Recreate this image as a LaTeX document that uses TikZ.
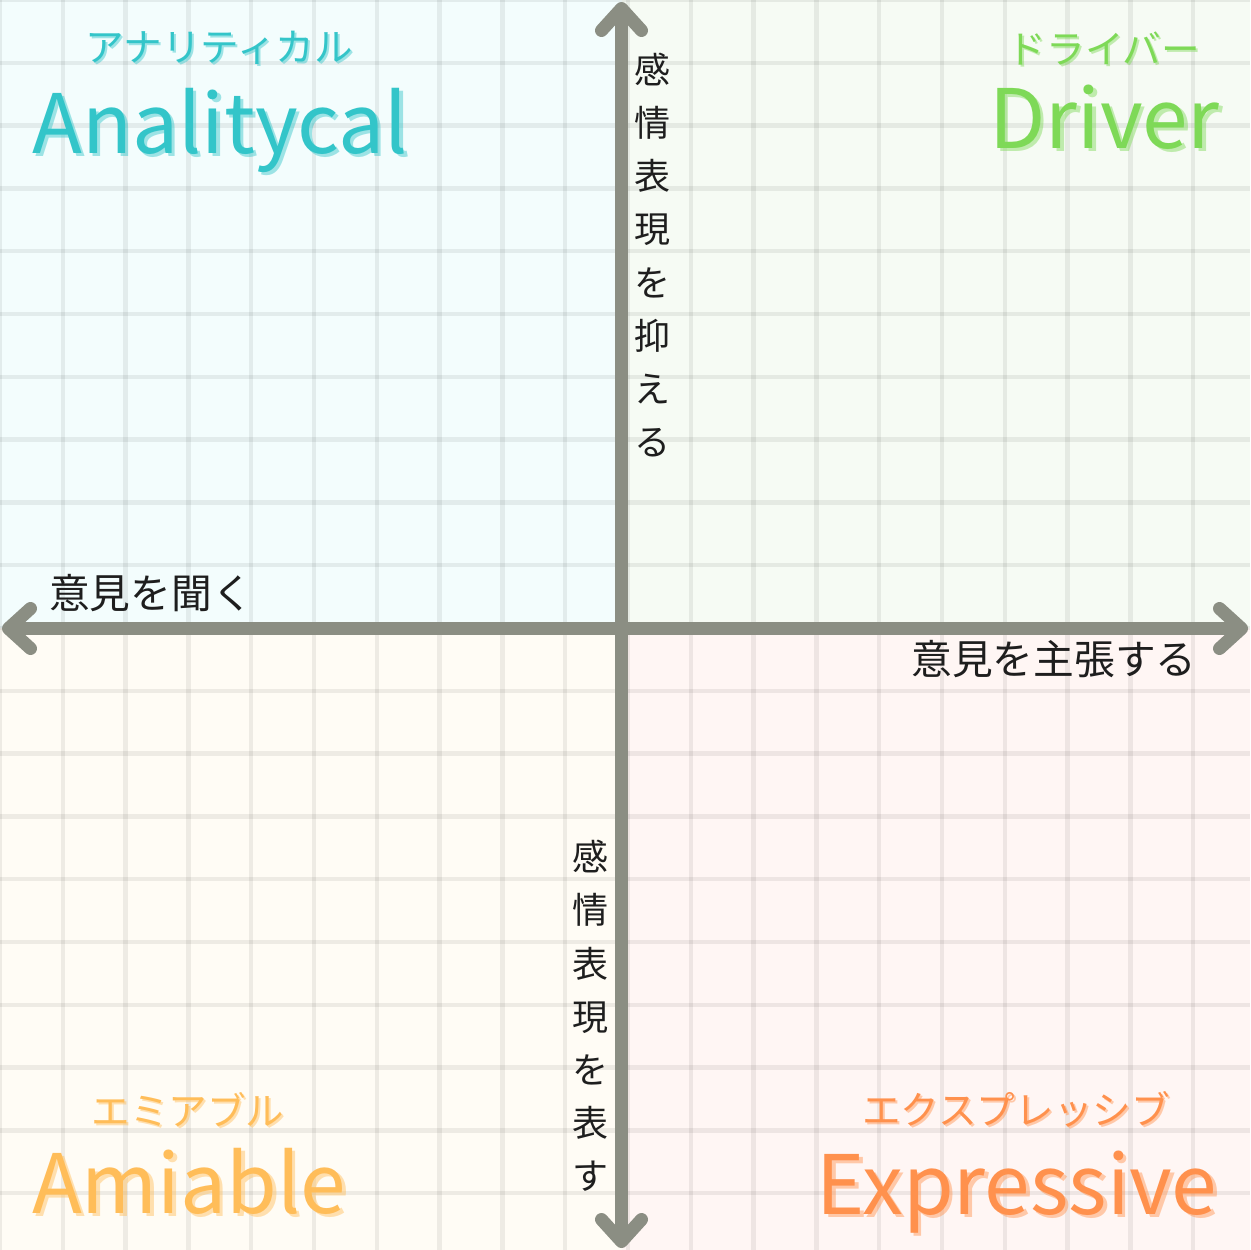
\documentclass[tikz,border=0pt]{standalone}
\usepackage{fontspec}
\setmainfont{Noto Sans CJK JP}
\usetikzlibrary{arrows.meta}
\definecolor{bgTL}{HTML}{F3FDFD}
\definecolor{bgTR}{HTML}{F6FBF4}
\definecolor{bgBL}{HTML}{FFFCF5}
\definecolor{bgBR}{HTML}{FFF6F4}
\definecolor{axisgray}{HTML}{8B8E83}
\definecolor{cteal}{HTML}{33C5C9}
\definecolor{cgreen}{HTML}{7ED957}
\definecolor{cyellow}{HTML}{FFBD59}
\definecolor{corange}{HTML}{FF914D}
\definecolor{ink}{HTML}{1E1E1E}
\tikzset{
  gridline/.style={draw=black, draw opacity=0.065, line width=4.5pt},
  axisline/.style={draw=axisgray, line width=13pt,
    {Straight Barb[length=22pt,width=40pt,round]}-{Straight Barb[length=22pt,width=40pt,round]}},
  bigname/.style={inner sep=0pt, anchor=base, font=\fontsize{82}{90}\selectfont},
  kana/.style={inner sep=0pt, anchor=center, font=\fontsize{38.6}{44}\selectfont},
  hlabel/.style={inner sep=0pt, anchor=center, text=ink, font=\fontsize{40.7}{46}\selectfont},
  vlabel/.style={inner sep=0pt, anchor=center, text=ink, align=center, font=\fontsize{36}{53.2}\selectfont},
  shadowtext/.style={opacity=0.45}
}
\begin{document}
\begin{tikzpicture}[x=1pt,y=-1pt]
\useasboundingbox (0,0) rectangle (1250,1250);
% quadrant backgrounds
\fill[bgTL] (0,0) rectangle (622,628);
\fill[bgTR] (622,0) rectangle (1250,628);
\fill[bgBL] (0,628) rectangle (622,1250);
\fill[bgBR] (622,628) rectangle (1250,1250);
% grid
\foreach \i in {0,...,20} {
  \draw[gridline] (\i*62.8,0) -- (\i*62.8,1250);
  \draw[gridline] (0,\i*62.8) -- (1250,\i*62.8);
}
% axes
\coordinate (left) at (2,628.5);
\coordinate (right) at (1248,628.5);
\coordinate (top) at (621.5,2);
\coordinate (bottom) at (621.5,1248);
\draw[axisline] (left) -- (right);
\draw[axisline] (top) -- (bottom);
% Analytical
\node[kana, text=cteal, shadowtext] (anakanaS) at (221.5,50) {アナリティカル};
\node[kana, text=cteal] (anakana) at (219.5,48) {アナリティカル};
\node[bigname, text=cteal, shadowtext] (anaS) at (223.5,156.5) {Analitycal};
\node[bigname, text=cteal] (ana) at (220,153) {Analitycal};
% Driver
\node[kana, text=cgreen, shadowtext] (drkanaS) at (1106,51) {ドライバー};
\node[kana, text=cgreen] (drkana) at (1104,49) {ドライバー};
\node[bigname, text=cgreen, shadowtext] (drS) at (1108,151.5) {Driver};
\node[bigname, text=cgreen] (dr) at (1104.5,148) {Driver};
% Amiable
\node[kana, text=cyellow, shadowtext] (amkanaS) at (190,1112) {エミアブル};
\node[kana, text=cyellow] (amkana) at (188,1110) {エミアブル};
\node[bigname, text=cyellow, shadowtext] (amS) at (192.5,1216.5) {Amiable};
\node[bigname, text=cyellow] (am) at (189,1213) {Amiable};
% Expressive
\node[kana, text=corange, shadowtext] (exkanaS) at (1018,1111) {エクスプレッシブ};
\node[kana, text=corange] (exkana) at (1016,1109) {エクスプレッシブ};
\node[bigname, text=corange, shadowtext] (exS) at (1020.5,1217.5) {Expressive};
\node[bigname, text=corange] (ex) at (1017,1214) {Expressive};
% axis labels
\node[hlabel] (listen) at (151,593) {意見を聞く};
\node[hlabel] (assert) at (1054,659) {意見を主張する};
\node[vlabel] (suppress) at (652,255) {感\\情\\表\\現\\を\\抑\\え\\る};
\node[vlabel] (express) at (590,1016) {感\\情\\表\\現\\を\\表\\す};
\end{tikzpicture}
\end{document}
